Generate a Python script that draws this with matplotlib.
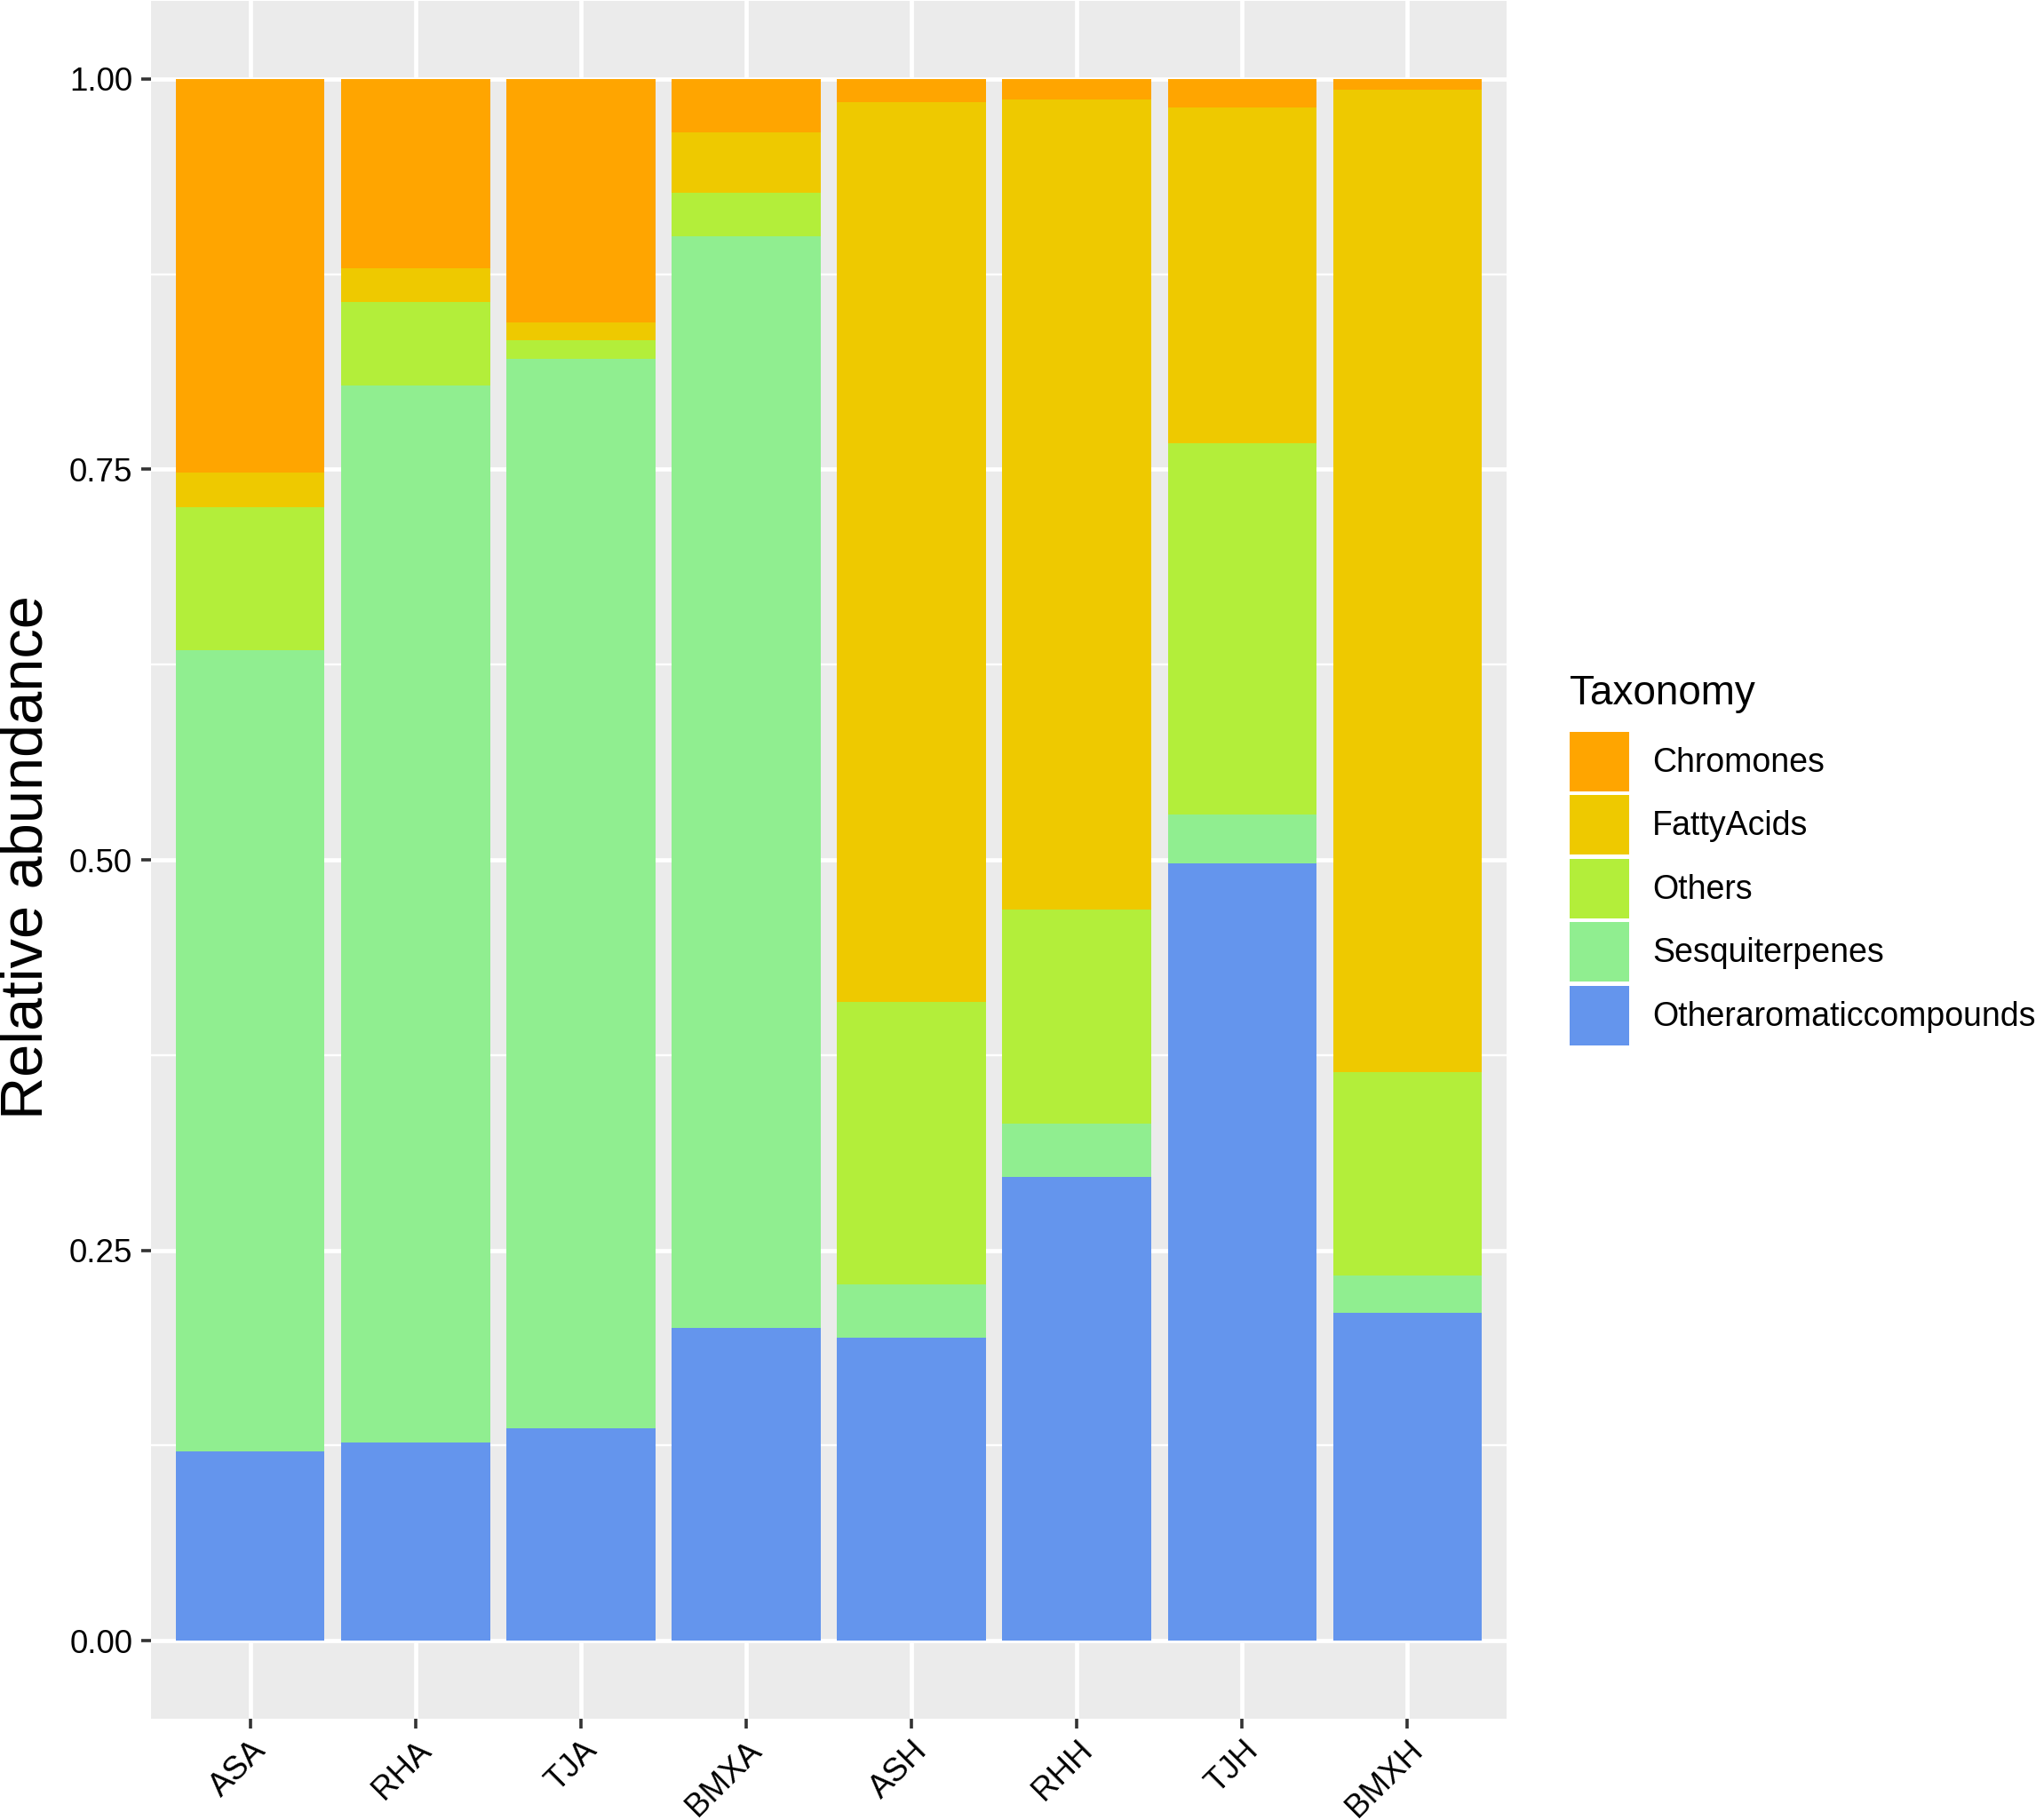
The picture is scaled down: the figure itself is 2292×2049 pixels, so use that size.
import matplotlib
matplotlib.use("Agg")
import matplotlib.pyplot as plt
from matplotlib.patches import Patch
import numpy as np

samples = ["ASA", "RHA", "TJA", "BMXA", "ASH", "RHH", "TJH", "BMXH"]
# stacking order bottom -> top
taxa_bottom_up = ["Otheraromaticcompounds", "Sesquiterpenes", "Others", "FattyAcids", "Chromones"]
otheraromatic = [0.121, 0.127, 0.136, 0.200, 0.194, 0.297, 0.498, 0.210]
sesquiterpenes = [0.513, 0.677, 0.685, 0.699, 0.034, 0.034, 0.031, 0.024]
others = [0.092, 0.053, 0.012, 0.028, 0.181, 0.137, 0.238, 0.130]
fattyacids = [0.022, 0.022, 0.011, 0.039, 0.576, 0.519, 0.215, 0.629]
chromones = [0.252, 0.121, 0.156, 0.034, 0.015, 0.013, 0.018, 0.007]
colors = {
    "Chromones": "#FFA500",
    "FattyAcids": "#EEC900",
    "Others": "#B3EE3A",
    "Sesquiterpenes": "#90EE90",
    "Otheraromaticcompounds": "#6495ED",
}
values = {
    "Otheraromaticcompounds": otheraromatic,
    "Sesquiterpenes": sesquiterpenes,
    "Others": others,
    "FattyAcids": fattyacids,
    "Chromones": chromones,
}
legend_order = ["Chromones", "FattyAcids", "Others", "Sesquiterpenes", "Otheraromaticcompounds"]
yticks = [0.00, 0.25, 0.50, 0.75, 1.00]
ytick_labels = ["0.00", "0.25", "0.50", "0.75", "1.00"]

plt.rcParams['font.family'] = ['Liberation Sans', 'DejaVu Sans']

W, H = 2292, 2049
fig = plt.figure(figsize=(W / 100, H / 100), dpi=100)
ax = fig.add_axes([170 / W, 1 - 1935 / H, (1696 - 170) / W, (1935 - 1) / H])
ax.set_facecolor("#EBEBEB")

x = np.arange(len(samples))
bottom = np.zeros(len(samples))
for t in taxa_bottom_up:
    v = np.array(values[t])
    ax.bar(x, v, width=0.9, bottom=bottom, color=colors[t], linewidth=0, zorder=3)
    bottom += v

ax.set_xlim(-0.6, len(samples) - 0.4)
ax.set_ylim(-0.05, 1.05)
ax.set_yticks(yticks)
ax.set_yticklabels(ytick_labels)
ax.set_yticks([0.125, 0.375, 0.625, 0.875], minor=True)
ax.set_xticks(x)
ax.set_xticklabels(samples, rotation=45, ha="right", va="top", rotation_mode="anchor")

ax.grid(which="major", color="white", linewidth=3.4, zorder=1)
ax.grid(which="minor", axis="y", color="white", linewidth=1.7, zorder=1)
ax.set_axisbelow(True)
for s in ax.spines.values():
    s.set_visible(False)
ax.tick_params(axis="both", which="major", length=8, width=2.6, color="#333333",
               labelsize=26.5, labelcolor="black", pad=7)
ax.tick_params(axis="x", which="major", pad=5)
ax.tick_params(axis="y", which="minor", length=0)

fig.text(31 / W, 1 - 965 / H, "Relative abundance", rotation=90, ha="center", va="center",
         fontsize=48, color="black")

# legend title
fig.text(1767 / W, 1 - 793 / H, "Taxonomy", ha="left", va="baseline", fontsize=33, color="black")

leg_handles = [Patch(facecolor=colors[t], edgecolor="none") for t in legend_order]
leg = fig.legend(leg_handles, legend_order, loc="upper left",
                 bbox_to_anchor=(1767 / W, 1 - 824 / H), frameon=False,
                 fontsize=27, handlelength=1.78, handleheight=2.37, labelspacing=0.12,
                 handletextpad=0.7, borderpad=0.0, borderaxespad=0)

fig.savefig("out.png", dpi=100, facecolor="white")
